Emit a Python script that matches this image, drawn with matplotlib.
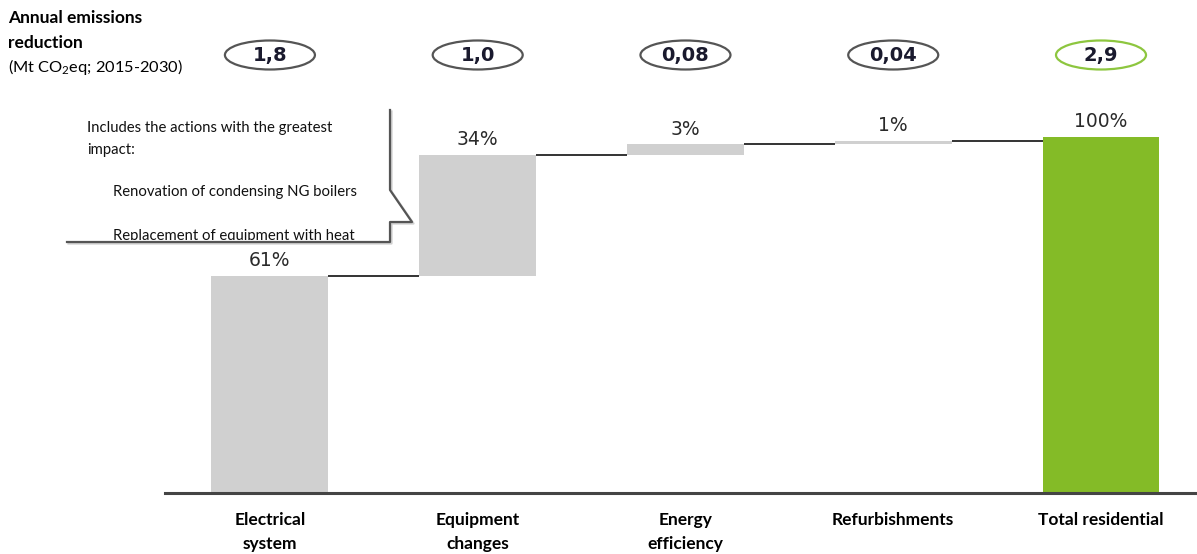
import matplotlib
matplotlib.use("Agg")
import matplotlib.pyplot as plt
import matplotlib.transforms as mtrans
from matplotlib.patches import Ellipse, Rectangle
from matplotlib.lines import Line2D

plt.rcParams["mathtext.fontset"] = "custom"
plt.rcParams["mathtext.rm"] = "Lato"
plt.rcParams["mathtext.it"] = "Lato:italic"
plt.rcParams["mathtext.bf"] = "Lato:bold"

# ---- data ----
categories = ["Electrical\nsystem", "Equipment\nchanges", "Energy\nefficiency",
              "Refurbishments", "Total residential"]
shares = [61, 34, 3, 1]          # % of total reduction per lever
total_share = 100                # % for the total bar
reductions = [1.8, 1.0, 0.08, 0.04, 2.9]   # Mt CO2eq
reduction_decimals = [1, 1, 2, 2, 1]
callout_lines = ["Includes the actions with the greatest", "impact:",
                 "Renovation of condensing NG boilers",
                 "Replacement of equipment with heat"]

W, H = 1197, 554
fig = plt.figure(figsize=(W / 100, H / 100), dpi=100)
fig.patch.set_facecolor("white")


def fx(x):
    return x / W


def fy(y):
    return 1 - y / H


# axes: baseline at y=493 px, value 100 at y=137 px
ax = fig.add_axes([fx(165), fy(493), fx(1197) - fx(165), fy(137) - fy(493)])
ax.set_xlim(-0.505, 4.462)
ax.set_ylim(0, 100)
for s in ["top", "right", "left"]:
    ax.spines[s].set_visible(False)
ax.spines["bottom"].set_color("#444444")
ax.spines["bottom"].set_linewidth(2.2)
ax.set_yticks([])

grey = "#d0d0d0"
green = "#84bb27"
bar_w = 0.563

# waterfall bars
bottoms = []
cum = 0
for v in shares:
    bottoms.append(cum)
    cum += v
xs = list(range(len(categories)))
ax.bar(xs[:4], shares, bottom=bottoms, width=bar_w, color=grey, zorder=2)
ax.bar(xs[4], total_share, width=bar_w, color=green, zorder=2)

# connectors
tops = [b + v for b, v in zip(bottoms, shares)]
for i, t in enumerate(tops):
    ax.plot([i + bar_w / 2, i + 1 - bar_w / 2], [t, t], color="#333333", lw=1.4,
            zorder=3, solid_capstyle="butt")

# percentage labels
label_vals = shares + [total_share]
label_tops = tops + [total_share]
for i, (v, t) in enumerate(zip(label_vals, label_tops)):
    ax.annotate(f"{v}%", (i, t), xytext=(0, 4), textcoords="offset points",
                ha="center", va="bottom", fontsize=13.5, color="#2a2a2a",
                family="DejaVu Sans", annotation_clip=False)

# category labels
ax.set_xticks(xs)
ax.set_xticklabels(categories, fontsize=12.5, fontweight="bold", family="Lato",
                   linespacing=1.6, va="top")
ax.tick_params(axis="x", length=0, pad=14)

# reduction values in ellipses
btrans = mtrans.blended_transform_factory(ax.transData, fig.transFigure)
ell_w = 90 / 207.75
for i, (val, d) in enumerate(zip(reductions, reduction_decimals)):
    ec = "#8dc63f" if i == 4 else "#555555"
    e = Ellipse((i, fy(55)), ell_w, 29 / H, transform=btrans, facecolor="white",
                edgecolor=ec, lw=1.6, clip_on=False)
    fig.add_artist(e)
    txt = f"{val:.{d}f}".replace(".", ",")
    fig.text(i, fy(56), txt, transform=btrans, ha="center", va="center",
             fontsize=14, fontweight="bold", color="#1a1a2e", family="DejaVu Sans")

# title block
fig.text(fx(8), fy(18), "Annual emissions", fontsize=12.5, fontweight="bold",
         family="Lato", va="center", ha="left")
fig.text(fx(8), fy(43), "reduction", fontsize=12.5, fontweight="bold",
         family="Lato", va="center", ha="left")
fig.text(fx(8), fy(67), r"(Mt CO$_2$eq; 2015-2030)", fontsize=11.8, family="Lato",
         va="center", ha="left")

# callout shape with a light drop shadow
cx = [fx(p) for p in [390, 390, 412, 390, 390, 67]]
cy = [fy(p) for p in [110, 190, 222, 222, 242, 242]]
fig.add_artist(Line2D([c + 1.5 / W for c in cx], [c - 1.5 / H for c in cy],
                      color="#cfcfcf", lw=1.6, transform=fig.transFigure))
fig.add_artist(Line2D(cx, cy, color="#555555", lw=1.6, transform=fig.transFigure))

clip = Rectangle((fx(60), fy(240)), fx(340), fy(100) - fy(240),
                 transform=fig.transFigure, visible=False)
fig.add_artist(clip)
callout_pos = [(87, 128), (87, 150), (113, 192), (113, 236)]
for line, (px_, py_) in zip(callout_lines, callout_pos):
    t = fig.text(fx(px_), fy(py_), line, fontsize=10.7, family="Lato",
                 va="center", ha="left", color="#111111")
    t.set_clip_path(clip)

fig.savefig("out.png", dpi=100, facecolor="white")
